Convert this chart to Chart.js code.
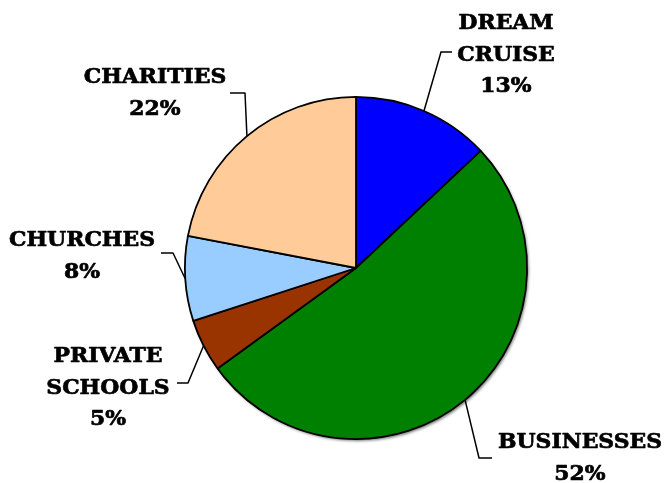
<!DOCTYPE html>
<html>
<head>
<meta charset="utf-8">
<script src="https://cdn.jsdelivr.net/npm/chart.js@4"></script>
<style>
  html, body { margin: 0; padding: 0; background: #fff; }
  #wrap { width: 667px; height: 483px; }
</style>
</head>
<body>
<div id="wrap"><canvas id="c" width="667" height="483"></canvas></div>
<script>
const categories = ['DREAM CRUISE', 'BUSINESSES', 'PRIVATE SCHOOLS', 'CHURCHES', 'CHARITIES'];
const values = [13, 52, 5, 8, 22];
const sliceColors = ['#0000FF', '#008000', '#993300', '#99CCFF', '#FFCC99'];

// label layout (annotation placement): text centre x, first baseline y, leader elbow, leader end
const labelLayout = [
  { x: 506, y: 29,  elbow: [441, 52],  end: [452, 52] },
  { x: 580, y: 448, elbow: [479, 458], end: [492, 458] },
  { x: 108, y: 362, elbow: [188, 383], end: [177, 383] },
  { x: 82,  y: 246, elbow: [173, 253], end: [161, 253] },
  { x: 155, y: 83,  elbow: [245, 93],  end: [230, 93] }
];

const shadowPlugin = {
  id: 'pieShadow',
  beforeDatasetsDraw(chart) {
    const arc = chart.getDatasetMeta(0).data[0];
    if (!arc) return;
    const { x, y, outerRadius } = arc.getProps(['x', 'y', 'outerRadius'], true);
    const ctx = chart.ctx;
    ctx.save();
    ctx.shadowColor = 'rgba(0,0,0,0.55)';
    ctx.shadowOffsetX = 1.5;
    ctx.shadowOffsetY = 2;
    ctx.shadowBlur = 3;
    ctx.fillStyle = '#000';
    ctx.beginPath();
    ctx.arc(x, y, outerRadius, 0, Math.PI * 2);
    ctx.fill();
    ctx.restore();
  }
};

const labelPlugin = {
  id: 'pieLabels',
  afterDatasetsDraw(chart) {
    const ctx = chart.ctx;
    const meta = chart.getDatasetMeta(0);
    const font = 'bold 21px "DejaVu Serif"';
    ctx.save();
    ctx.font = font;
    const ref = ctx.measureText('BUSINESSES').width;
    const sx = 164 / ref;
    meta.data.forEach((arc, i) => {
      const p = arc.getProps(['x', 'y', 'startAngle', 'endAngle', 'outerRadius'], true);
      const mid = (p.startAngle + p.endAngle) / 2;
      const ex = p.x + Math.cos(mid) * p.outerRadius;
      const ey = p.y + Math.sin(mid) * p.outerRadius;
      const L = labelLayout[i];
      ctx.strokeStyle = '#000';
      ctx.lineWidth = 1.5;
      ctx.beginPath();
      ctx.moveTo(ex, ey);
      ctx.lineTo(L.elbow[0], L.elbow[1]);
      ctx.lineTo(L.end[0], L.end[1]);
      ctx.stroke();

      const lines = categories[i].split(' ').concat([values[i] + '%']);
      ctx.fillStyle = '#000';
      ctx.textAlign = 'center';
      ctx.textBaseline = 'alphabetic';
      ctx.lineWidth = 0.7;
      ctx.lineJoin = 'round';
      lines.forEach((t, k) => {
        ctx.save();
        ctx.translate(L.x, L.y + k * 31.5);
        ctx.scale(sx, 1);
        ctx.fillText(t, 0, 0);
        ctx.strokeText(t, 0, 0);
        ctx.restore();
      });
    });
    ctx.restore();
  }
};

new Chart(document.getElementById('c'), {
  type: 'pie',
  data: {
    labels: categories,
    datasets: [{
      data: values,
      backgroundColor: sliceColors,
      borderColor: '#000',
      borderWidth: 1.8,
      hoverOffset: 0
    }]
  },
  options: {
    responsive: false,
    animation: false,
    devicePixelRatio: 1,
    layout: { padding: { top: 95.5, bottom: 42.5, left: 184, right: 139 } },
    plugins: {
      legend: { display: false },
      tooltip: { enabled: false }
    }
  },
  plugins: [shadowPlugin, labelPlugin]
});
</script>
</body>
</html>
